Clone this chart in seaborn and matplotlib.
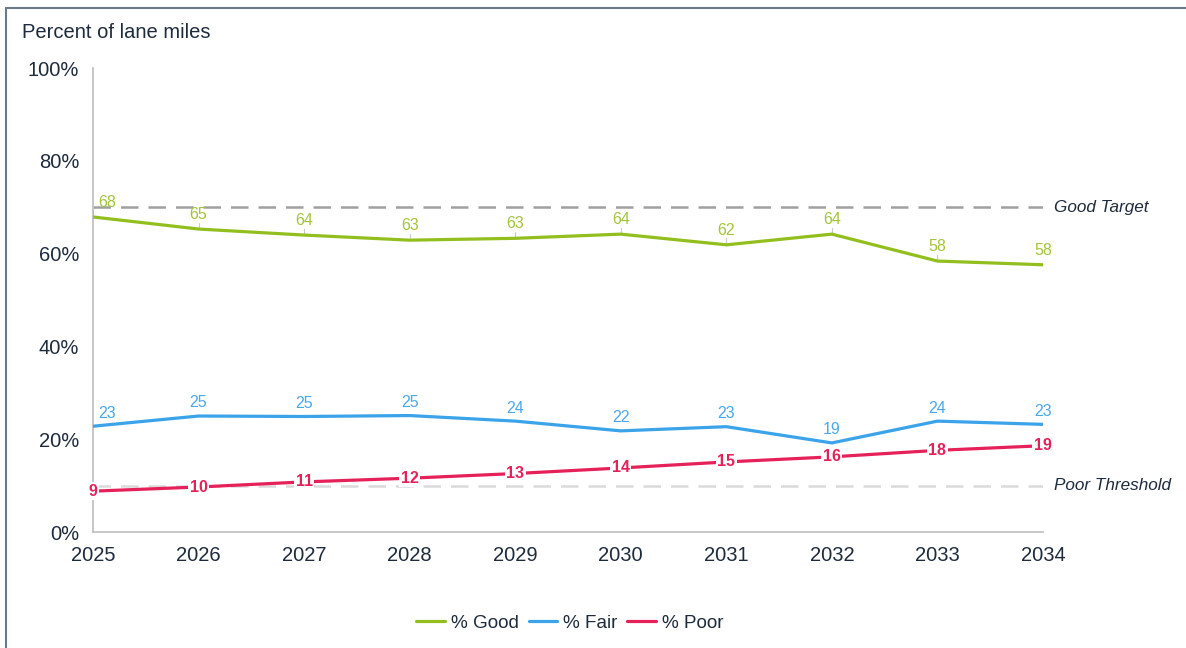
import numpy as np
import pandas as pd
import matplotlib
matplotlib.use("Agg")
import matplotlib.pyplot as plt
from matplotlib.lines import Line2D
import seaborn as sns

years = [2025, 2026, 2027, 2028, 2029, 2030, 2031, 2032, 2033, 2034]
good = [67.9, 65.3, 64.0, 62.9, 63.3, 64.2, 61.9, 64.2, 58.4, 57.6]
fair = [22.8, 25.0, 24.9, 25.1, 23.9, 21.8, 22.7, 19.2, 23.9, 23.2]
poor = [8.8, 9.7, 10.8, 11.6, 12.6, 13.8, 15.1, 16.2, 17.6, 18.6]
series_names = ["% Good", "% Fair", "% Poor"]
good_target = 70
poor_threshold = 10

colors = {"% Good": "#93BF1E", "% Fair": "#3AA3E9", "% Poor": "#E6215A"}
txt = "#1E2B3C"

df = pd.DataFrame({
    "year": years * 3,
    "value": good + fair + poor,
    "series": np.repeat(series_names, len(years)),
})

sns.set_style("white")
plt.rcParams['font.family'] = ['Liberation Sans', 'DejaVu Sans']

fig = plt.figure(figsize=(11.86, 6.48), dpi=100)
ax = fig.add_axes([0.0784, 0.179, 0.801, 0.716])

sns.lineplot(data=df, x="year", y="value", hue="series", palette=colors,
             linewidth=2.3, ax=ax, legend=False, zorder=3)

ax.axhline(good_target, color="#A0A0A0", lw=1.8, dashes=(7, 4), zorder=2)
ax.axhline(poor_threshold, color="#DADADA", lw=1.8, dashes=(7, 4), zorder=1)
ax.text(1.012, good_target, "Good Target", transform=ax.get_yaxis_transform(),
        fontsize=12.3, style='italic', color=txt, va='center', ha='left')
ax.text(1.012, poor_threshold, "Poor Threshold", transform=ax.get_yaxis_transform(),
        fontsize=12.3, style='italic', color=txt, va='center', ha='left')

ax.set_xlim(years[0], years[-1])
ax.set_ylim(0, 100)
ax.set_xticks(years)
ax.set_yticks([0, 20, 40, 60, 80, 100])
ax.set_yticklabels([f"{v}%" for v in range(0, 101, 20)])
ax.set_xlabel("")
ax.set_ylabel("")
ax.tick_params(axis='both', labelsize=14.5, colors="#B0B0B0", labelcolor=txt,
               length=4, width=1, direction='out', pad=6)
for s in ["top", "right"]:
    ax.spines[s].set_visible(False)
for s in ["left", "bottom"]:
    ax.spines[s].set_color("#BDBDBD")
    ax.spines[s].set_linewidth(1.2)

# data labels
for i, (yr, v) in enumerate(zip(years, good)):
    dx = 10 if i == 0 else 0
    ax.plot([yr, yr], [v, v + 1.4], color="#C8C8C8", lw=0.8, zorder=2)
    ax.annotate(f"{v:.0f}", (yr, v), xytext=(dx, 5), textcoords="offset points",
                ha='center', va='bottom', fontsize=11.5, color="#A2C53A")
for i, (yr, v) in enumerate(zip(years, fair)):
    dx = 10 if i == 0 else 0
    ax.annotate(f"{v:.0f}", (yr, v), xytext=(dx, 4), textcoords="offset points",
                ha='center', va='bottom', fontsize=11.5, color="#4AA8EA")
for yr, v in zip(years, poor):
    ax.text(yr, v, f"{v:.0f}", ha='center', va='center', fontsize=11.5,
            fontweight='bold', color=colors["% Poor"], zorder=4,
            bbox=dict(boxstyle="square,pad=0.1", fc="white", ec="none"))

fig.text(22 / 1186, 1 - 32 / 648, "Percent of lane miles", fontsize=14.5,
         color=txt, va='center', ha='left')

handles = [Line2D([0], [0], color=colors[n], lw=2.3) for n in series_names]
fig.legend(handles, series_names, loc='center', bbox_to_anchor=(570 / 1186, 1 - 623 / 648),
           ncol=3, frameon=False, fontsize=13.6, handlelength=1.5, handletextpad=0.35,
           columnspacing=0.5, labelcolor=txt)

# outer frame (top and left edges visible)
fig.add_artist(Line2D([6 / 1186, 6 / 1186], [0, 1 - 8 / 648], color="#6B7A88", lw=1.5,
                      transform=fig.transFigure))
fig.add_artist(Line2D([6 / 1186, 1], [1 - 8 / 648, 1 - 8 / 648], color="#6B7A88", lw=1.5,
                      transform=fig.transFigure))

plt.savefig("out.png", dpi=100)
plt.close()
